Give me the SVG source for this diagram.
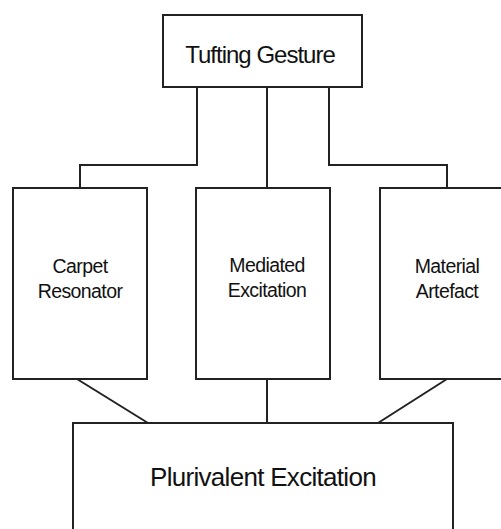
<svg xmlns="http://www.w3.org/2000/svg" width="501" height="529" viewBox="0 0 501 529">
<style>
.box{fill:#fff;stroke:#222;stroke-width:2}
.ln{fill:none;stroke:#222;stroke-width:2}
text{font-family:"Liberation Sans",Arial,sans-serif;fill:#111;text-anchor:middle}
.s{font-size:19.5px;letter-spacing:-0.6px}
.t{font-size:24px;letter-spacing:-1px}
.b{font-size:26px;letter-spacing:-0.7px}
</style>
<rect width="501" height="529" fill="#fff"/>
<g id="connectors">
<polyline class="ln" points="197,87 197,165 80,165 80,188"/>
<line class="ln" x1="267" y1="87" x2="267" y2="188"/>
<polyline class="ln" points="329,87 329,165 447,165 447,188"/>
<line class="ln" x1="77" y1="379" x2="148" y2="423"/>
<line class="ln" x1="267" y1="379" x2="267" y2="423"/>
<line class="ln" x1="447" y1="379" x2="378" y2="423"/>
</g>
<g id="tufting">
<rect class="box" x="163" y="15" width="199" height="72"/>
<text class="t" x="260" y="63">Tufting Gesture</text>
</g>
<g id="carpet">
<rect class="box" x="13" y="188" width="134" height="191"/>
<text class="s" x="80" y="273">Carpet</text>
<text class="s" x="80" y="298">Resonator</text>
</g>
<g id="mediated">
<rect class="box" x="196" y="188" width="134" height="191"/>
<text class="s" x="267" y="272">Mediated</text>
<text class="s" x="267" y="297">Excitation</text>
</g>
<g id="material">
<rect class="box" x="380" y="188" width="134" height="191"/>
<text class="s" x="447" y="273">Material</text>
<text class="s" x="447" y="298">Artefact</text>
</g>
<g id="plurivalent">
<rect class="box" x="73" y="423" width="380" height="120"/>
<text class="b" x="263" y="486">Plurivalent Excitation</text>
</g>
</svg>
